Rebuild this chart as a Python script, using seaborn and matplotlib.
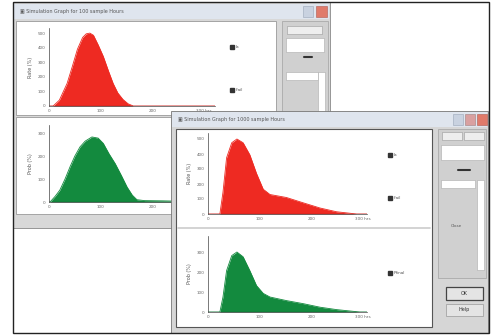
import numpy as np
import pandas as pd
import matplotlib
matplotlib.use('Agg')
import matplotlib.pyplot as plt
from matplotlib.patches import Rectangle
import seaborn as sns

# ── data ─────────────────────────────────────────────────────────────────
# back window, upper panel (red)
w1_red_x = [0, 8, 20, 35, 45, 55, 65, 72, 79, 86, 95, 105, 115, 124, 133, 143, 153, 163, 325]
w1_red_y = [0, 0, 40, 155, 270, 390, 470, 495, 500, 485, 420, 340, 240, 155, 90, 45, 15, 0, 0]
# back window, lower panel (green)
w1_grn_x = [0, 2, 12, 21, 31, 41, 50, 60, 70, 83, 95, 105, 116, 128, 140, 151, 161, 170, 185, 220, 325]
w1_grn_y = [0, 0, 25, 52, 100, 155, 200, 240, 265, 283, 278, 255, 210, 167, 115, 65, 30, 10, 6, 5, 0]
# front window, upper panel (red)
w2_red_x = [0, 23, 29, 36, 46, 56, 68, 81, 94, 107, 120, 152, 184, 217, 249, 288, 308]
w2_red_y = [0, 0, 145, 375, 475, 500, 475, 395, 270, 165, 130, 110, 75, 40, 15, 0, 0]
# front window, lower panel (green)
w2_grn_x = [0, 23, 29, 36, 46, 56, 68, 81, 94, 107, 120, 152, 184, 217, 249, 294, 308]
w2_grn_y = [0, 0, 75, 207, 282, 300, 276, 207, 132, 93, 75, 57, 42, 24, 12, 0, 0]

x_ticks = [0, 100, 200, 300]
x_ticklabels = ['0', '100', '200', '300 hrs']
red_yticks = [0, 100, 200, 300, 400, 500]
grn_yticks = [0, 100, 200, 300]

titles = ['Simulation Graph for 100 sample Hours',
          'Simulation Graph for 1000 sample Hours']
w1_legend = ['Ia', 'Ifail']
w2_legend = ['Ia', 'Ifail', 'Pfinal']

RED = '#ee2a22'
GREEN = '#138a3e'

sns.set_style('white')
plt.rcParams['font.family'] = ['DejaVu Sans']

W, H = 496, 335
fig = plt.figure(figsize=(W / 100, H / 100), dpi=100)
fig.patch.set_facecolor('white')


def canvas(z):
    ax = fig.add_axes([0, 0, 1, 1], zorder=z)
    ax.set_xlim(0, W)
    ax.set_ylim(H, 0)
    ax.axis('off')
    ax.patch.set_alpha(0)
    return ax


def box(ax, x0, y0, x1, y1, fc, ec='none', lw=0.6):
    ax.add_patch(Rectangle((x0, y0), x1 - x0, y1 - y0, facecolor=fc,
                           edgecolor=ec, linewidth=lw))


def plot_axes(x0, y0, x1, y1, z):
    return fig.add_axes([x0 / W, 1 - y1 / H, (x1 - x0) / W, (y1 - y0) / H], zorder=z)


def density(ax, xs, ys, color, ylim, yticks, ylabel, xlim):
    df = pd.DataFrame({'x': xs, 'y': ys})
    ax.fill_between(df['x'], df['y'], color=color, linewidth=0)
    sns.lineplot(data=df, x='x', y='y', ax=ax, color=color, lw=0.6)
    ax.axhline(0, color='black', lw=0.8)
    ax.set_xlim(*xlim)
    ax.set_ylim(*ylim)
    ax.set_xticks(x_ticks)
    ax.set_xticklabels(x_ticklabels)
    ax.set_yticks(yticks)
    ax.set_xlabel('')
    ax.set_ylabel(ylabel, fontsize=3.5, color='#555555', labelpad=3)
    ax.tick_params(labelsize=3, colors='#666666', length=1.5, width=0.5, pad=1)
    for s in ['top', 'right']:
        ax.spines[s].set_visible(False)
    for s in ['left', 'bottom']:
        ax.spines[s].set_linewidth(0.5)
        ax.spines[s].set_color('#444444')
    ax.patch.set_alpha(0)


# ── back window ──────────────────────────────────────────────────────────
c1 = canvas(0)
box(c1, 13, 2, 330, 228, '#d8d8d8', '#888888')
box(c1, 14, 4, 329, 19, '#dfe5ee')
c1.text(20, 11.5, '▣ ' + titles[0], fontsize=3.5, color='#555555', va='center')
box(c1, 303, 6, 313, 17, '#c9d2e0', '#9aa6b8', 0.4)
box(c1, 316, 6, 327, 17, '#e07a6a', '#b05a50', 0.4)
box(c1, 16, 21, 276, 115, 'white', '#999999')
box(c1, 16, 117, 276, 214, 'white', '#999999')
box(c1, 282, 21, 328, 215, '#d0d0d0', '#aaaaaa')
box(c1, 287, 26, 322, 34, '#eeeeee', '#999999', 0.4)
box(c1, 286, 38, 324, 52, 'white', '#aaaaaa', 0.4)
box(c1, 286, 72, 318, 80, 'white', '#aaaaaa', 0.4)
box(c1, 318, 72, 325, 112, 'white', '#aaaaaa', 0.4)
c1.plot([304, 312], [57, 57], color='#333333', lw=1.5)
for yy, lab in zip([47, 90], w1_legend):
    c1.plot(232, yy, 's', ms=2.2, color='#333333')
    c1.text(236, yy, lab, fontsize=3, color='#555555', va='center')

a1 = plot_axes(49, 28, 215, 106, 1)
density(a1, w1_red_x, w1_red_y, RED, (0, 535), red_yticks, 'Rate (%)', (0, 321))
a2 = plot_axes(49, 125, 215, 202, 1)
density(a2, w1_grn_x, w1_grn_y, GREEN, (0, 335), grn_yticks, 'Prob (%)', (0, 321))

# ── front window ─────────────────────────────────────────────────────────
c2 = canvas(2)
c2.patch.set_alpha(0)
box(c2, 171, 111, 488, 333, '#d6d6d6', '#777777')
box(c2, 172, 112, 487, 127, '#dfe5ee')
c2.text(178, 119.5, '▣ ' + titles[1], fontsize=3.5, color='#555555', va='center')
box(c2, 453, 114, 463, 125, '#c9d2e0', '#9aa6b8', 0.4)
box(c2, 465, 114, 475, 125, '#d9a0a0', '#a08080', 0.4)
box(c2, 477, 114, 487, 125, '#e07a6a', '#b05a50', 0.4)
box(c2, 176, 129, 432, 327, 'white', '#555555', 0.8)
c2.plot([178, 430], [228, 228], color='#cccccc', lw=1.2)
box(c2, 438, 129, 486, 278, '#d0d0d0', '#aaaaaa')
box(c2, 442, 132, 462, 140, '#eeeeee', '#999999', 0.4)
box(c2, 464, 132, 484, 140, '#eeeeee', '#999999', 0.4)
box(c2, 441, 145, 484, 160, 'white', '#aaaaaa', 0.4)
box(c2, 441, 180, 475, 188, 'white', '#aaaaaa', 0.4)
box(c2, 477, 180, 484, 270, 'white', '#aaaaaa', 0.4)
c2.plot([458, 470], [170, 170], color='#333333', lw=1.5)
c2.text(456, 226, 'Close', fontsize=3, color='#555555', ha='center', va='center')
box(c2, 446, 287, 483, 300, '#e4e4e4', '#444444', 0.9)
c2.text(464.5, 293.5, 'OK', fontsize=3.5, color='#333333', ha='center', va='center')
box(c2, 446, 304, 483, 316, '#e4e4e4', '#999999', 0.5)
c2.text(464.5, 310, 'Help', fontsize=3.5, color='#333333', ha='center', va='center')
for yy, lab in zip([155, 198, 273], w2_legend):
    c2.plot(390, yy, 's', ms=2.2, color='#333333')
    c2.text(394, yy, lab, fontsize=3, color='#555555', va='center')

a3 = plot_axes(208, 133, 367, 214, 3)
density(a3, w2_red_x, w2_red_y, RED, (0, 540), red_yticks, 'Rate (%)', (0, 308))
a4 = plot_axes(208, 236, 367, 312, 3)
density(a4, w2_grn_x, w2_grn_y, GREEN, (0, 380), grn_yticks, 'Prob (%)', (0, 308))

# outer frame
c3 = canvas(5)
box(c3, 13, 2, 489, 333, 'none', '#222222', 1.0)

fig.savefig('out.png', dpi=100)
